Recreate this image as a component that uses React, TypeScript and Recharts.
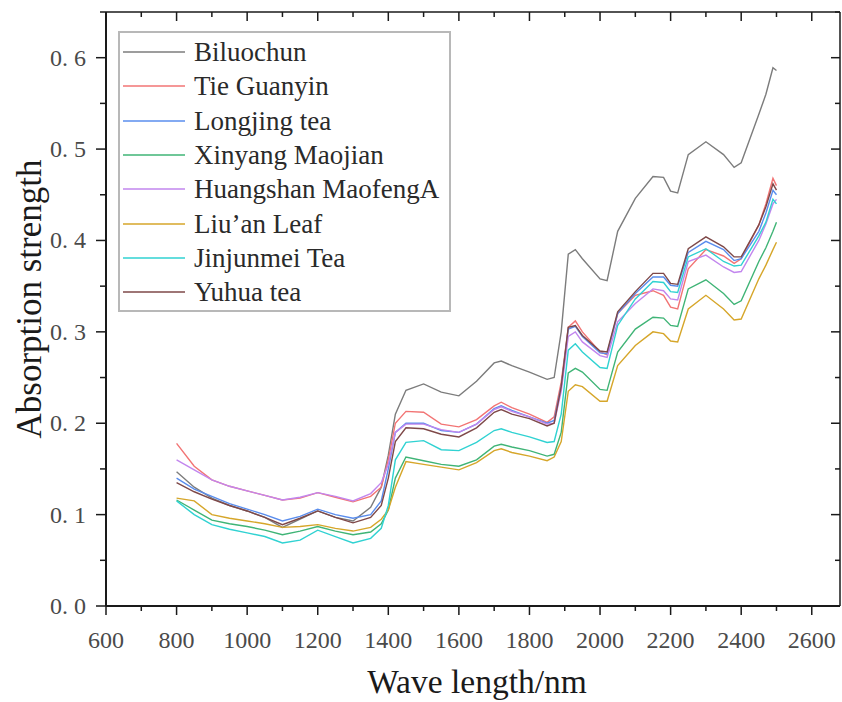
import React from 'react';
import { LineChart, Line, XAxis, YAxis, Legend, Label, ReferenceLine } from 'recharts';

const wavelengths = [
  800, 850, 900, 950, 1000, 1050, 1100, 1150, 1200, 1250, 1300, 1350, 1380, 1400, 1420, 1450,
  1500, 1550, 1600, 1650, 1700, 1720, 1750, 1800, 1850, 1870, 1890, 1910, 1930, 1950, 2000,
  2020, 2050, 2100, 2150, 2180, 2200, 2220, 2250, 2300, 2350, 2380, 2400, 2450, 2470, 2490, 2500,
];

const biluochun = [
  0.147, 0.13, 0.118, 0.11, 0.104, 0.097, 0.086, 0.095, 0.104, 0.097, 0.093, 0.108, 0.13, 0.165, 0.21, 0.236,
  0.243, 0.234, 0.23, 0.246, 0.266, 0.268, 0.263, 0.256, 0.248, 0.25, 0.3, 0.385, 0.39, 0.38, 0.358,
  0.356, 0.41, 0.446, 0.47, 0.469, 0.454, 0.452, 0.494, 0.508, 0.494, 0.48, 0.485, 0.538, 0.56, 0.589, 0.586,
];
const tieGuanyin = [
  0.178, 0.153, 0.138, 0.131, 0.126, 0.121, 0.116, 0.118, 0.124, 0.119, 0.114, 0.12, 0.13, 0.16, 0.2, 0.213,
  0.212, 0.199, 0.196, 0.204, 0.219, 0.223, 0.217, 0.21, 0.201, 0.207, 0.245, 0.305, 0.312, 0.3, 0.278,
  0.275, 0.32, 0.34, 0.345, 0.34, 0.327, 0.325, 0.369, 0.39, 0.383, 0.375, 0.38, 0.417, 0.44, 0.468, 0.46,
];
const longjing = [
  0.14, 0.128, 0.12, 0.112, 0.106, 0.1, 0.093, 0.098, 0.106, 0.1, 0.096, 0.1, 0.115, 0.15, 0.19, 0.2,
  0.2, 0.192, 0.19, 0.199, 0.216, 0.219, 0.214, 0.207, 0.2, 0.203, 0.24, 0.303, 0.306, 0.295, 0.277,
  0.276, 0.32, 0.342, 0.36, 0.36, 0.351, 0.35, 0.387, 0.399, 0.39, 0.378, 0.38, 0.41, 0.43, 0.455, 0.45,
];
const xinyang = [
  0.116, 0.105, 0.094, 0.09, 0.087, 0.083, 0.078, 0.082, 0.087, 0.082, 0.078, 0.081, 0.09, 0.105, 0.14, 0.163,
  0.159, 0.155, 0.153, 0.16, 0.175, 0.177, 0.174, 0.17, 0.164, 0.166, 0.19, 0.255, 0.26, 0.256, 0.237,
  0.236, 0.278, 0.303, 0.316, 0.315, 0.307, 0.306, 0.347, 0.357, 0.342, 0.33, 0.334, 0.377, 0.392, 0.41, 0.42,
];
const huangshan = [
  0.16, 0.149, 0.138, 0.131, 0.126, 0.121, 0.116, 0.119, 0.124, 0.12, 0.115, 0.123, 0.135, 0.155, 0.19, 0.199,
  0.199, 0.193, 0.19, 0.199, 0.215, 0.218, 0.213, 0.207, 0.199, 0.2, 0.235, 0.295, 0.3, 0.289, 0.274,
  0.272, 0.311, 0.331, 0.347, 0.345, 0.336, 0.335, 0.377, 0.384, 0.371, 0.365, 0.366, 0.4, 0.418, 0.44, 0.445,
];
const liuan = [
  0.118, 0.115, 0.1, 0.096, 0.093, 0.09, 0.086, 0.087, 0.089, 0.085, 0.082, 0.086, 0.095, 0.105, 0.13, 0.158,
  0.155, 0.152, 0.149, 0.157, 0.17, 0.172, 0.168, 0.164, 0.159, 0.163, 0.18, 0.235, 0.242, 0.24, 0.224,
  0.224, 0.263, 0.285, 0.3, 0.298, 0.29, 0.289, 0.325, 0.34, 0.325, 0.313, 0.314, 0.358, 0.373, 0.39, 0.398,
];
const jinjunmei = [
  0.115, 0.1, 0.089, 0.084, 0.08, 0.076, 0.069, 0.072, 0.083, 0.076, 0.069, 0.074, 0.085, 0.11, 0.16, 0.179,
  0.181, 0.171, 0.17, 0.179, 0.192, 0.194, 0.19, 0.185, 0.179, 0.18, 0.21, 0.28, 0.287, 0.278, 0.261,
  0.26, 0.307, 0.336, 0.355, 0.354, 0.344, 0.343, 0.382, 0.391, 0.377, 0.372, 0.373, 0.405, 0.42, 0.445, 0.44,
];
const yuhua = [
  0.135, 0.125, 0.117, 0.11, 0.104, 0.097, 0.089, 0.096, 0.104, 0.097, 0.091, 0.097, 0.11, 0.14, 0.18, 0.195,
  0.194, 0.188, 0.185, 0.195, 0.212, 0.215, 0.21, 0.205, 0.197, 0.2, 0.24, 0.305, 0.307, 0.296, 0.279,
  0.278, 0.322, 0.344, 0.364, 0.364, 0.353, 0.352, 0.391, 0.404, 0.393, 0.382, 0.382, 0.417, 0.437, 0.462, 0.455,
];

const xTicks = [600, 700, 800, 900, 1000, 1100, 1200, 1300, 1400, 1500, 1600, 1700, 1800, 1900, 2000, 2100, 2200, 2300, 2400, 2500, 2600];
const yTicks = [0, 0.05, 0.1, 0.15, 0.2, 0.25, 0.3, 0.35, 0.4, 0.45, 0.5, 0.55, 0.6, 0.65];
const xDomain = [600, 2680];
const yDomain = [0, 0.65];

const seriesList = [
  { key: 'biluochun', name: 'Biluochun', color: '#7c7c7c', values: biluochun },
  { key: 'tieGuanyin', name: 'Tie Guanyin', color: '#f27474', values: tieGuanyin },
  { key: 'longjing', name: 'Longjing tea', color: '#5a8ded', values: longjing },
  { key: 'xinyang', name: 'Xinyang Maojian', color: '#3fb476', values: xinyang },
  { key: 'huangshan', name: 'Huangshan MaofengA', color: '#c286ee', values: huangshan },
  { key: 'liuan', name: 'Liu\u2019an Leaf', color: '#d6a62a', values: liuan },
  { key: 'jinjunmei', name: 'Jinjunmei Tea', color: '#30d2d2', values: jinjunmei },
  { key: 'yuhua', name: 'Yuhua tea', color: '#7e4848', values: yuhua },
];

const chartData = wavelengths.map((w, i) => {
  const row: Record<string, number> = { w };
  seriesList.forEach((s) => {
    row[s.key] = s.values[i];
  });
  return row;
});

const CHART_W = 842;
const CHART_H = 702;
const MARGIN = { top: 12, right: 2, left: 0, bottom: 0 };
// edges of the plot frame, used to mirror the ticks onto the top and right sides
const FRAME_TOP = MARGIN.top;
const FRAME_RIGHT = CHART_W - MARGIN.right;

const FONT = '"Liberation Serif", "Times New Roman", serif';
const AXIS = '#1a1a1a';

const isMajorX = (v: number) => v % 200 === 0;
const isMajorY = (v: number) => Math.round(v * 100) % 10 === 0;

const BottomTick = (props: any) => {
  const { x, y, payload } = props;
  const major = isMajorX(payload.value);
  const len = major ? 9 : 5;
  return (
    <g>
      <line x1={x} y1={y} x2={x} y2={y + len} stroke={AXIS} strokeWidth={1.5} />
      <line x1={x} y1={FRAME_TOP} x2={x} y2={FRAME_TOP + len} stroke={AXIS} strokeWidth={1.5} />
      {major && (
        <text x={x} y={y + 42} textAnchor="middle" fontSize={24} fontFamily={FONT} fill="#4a4a4a">
          {payload.value}
        </text>
      )}
    </g>
  );
};

const LeftTick = (props: any) => {
  const { x, y, payload } = props;
  const major = isMajorY(payload.value);
  return (
    <g>
      <line x1={x - (major ? 10 : 6)} y1={y} x2={x} y2={y} stroke={AXIS} strokeWidth={1.5} />
      <line x1={FRAME_RIGHT - (major ? 9 : 5)} y1={y} x2={FRAME_RIGHT} y2={y} stroke={AXIS} strokeWidth={1.5} />
      {major && (
        <text x={x - 20} y={y + 8} textAnchor="end" fontSize={24} fontFamily={FONT} fill="#4a4a4a">
          {payload.value.toFixed(1).replace('.', '. ')}
        </text>
      )}
    </g>
  );
};

const seriesOrder = seriesList.map((s) => s.name);

const LegendBox = (props: any) => {
  const items = [...(props.payload || [])]
    .filter((e: any) => seriesOrder.includes(e.value))
    .sort((a: any, b: any) => seriesOrder.indexOf(a.value) - seriesOrder.indexOf(b.value));
  return (
    <div
      style={{
        width: 333,
        height: 281,
        boxSizing: 'border-box',
        border: '2px solid #b8b8b8',
        background: '#fff',
        paddingTop: 2,
      }}
    >
      {items.map((entry: any) => (
        <div key={entry.value} style={{ display: 'flex', alignItems: 'center', height: 34.3 }}>
          <div style={{ width: 62, height: 2, background: entry.color, opacity: 0.75, marginLeft: 3, marginRight: 9 }} />
          <span style={{ fontFamily: FONT, fontSize: 27, color: '#2a2a2a', lineHeight: '34px', whiteSpace: 'nowrap' }}>
            {entry.value}
          </span>
        </div>
      ))}
    </div>
  );
};

export default function App() {
  return (
    <div style={{ position: 'absolute', left: 0, top: 0, background: '#fff' }}>
      <LineChart width={CHART_W} height={CHART_H} data={chartData} margin={MARGIN}>
        <XAxis
          dataKey="w"
          type="number"
          domain={xDomain}
          ticks={xTicks}
          interval={0}
          height={96}
          tickSize={0}
          tickMargin={0}
          tickLine={false}
          tick={BottomTick}
          axisLine={{ stroke: AXIS, strokeWidth: 2 }}
        >
          <Label
            content={(p: any) => {
              const vb = p.viewBox;
              return (
                <text x={vb.x + vb.width / 2 + 4} y={693} textAnchor="middle" fontSize={33.5} fontFamily={FONT} fill="#1a1a1a">
                  Wave length/nm
                </text>
              );
            }}
          />
        </XAxis>
        <YAxis
          type="number"
          domain={yDomain}
          ticks={yTicks}
          interval={0}
          width={106}
          tickSize={0}
          tickMargin={0}
          tickLine={false}
          tick={LeftTick}
          axisLine={{ stroke: AXIS, strokeWidth: 2 }}
        >
          <Label
            content={(p: any) => {
              const vb = p.viewBox;
              const cx = 41;
              const cy = vb.y + vb.height / 2 - 10;
              return (
                <text
                  x={cx}
                  y={cy}
                  transform={`rotate(-90 ${cx} ${cy})`}
                  textAnchor="middle"
                  fontSize={35}
                  fontFamily={FONT}
                  fill="#1a1a1a"
                >
                  Absorption strength
                </text>
              );
            }}
          />
        </YAxis>
        <ReferenceLine y={yDomain[1]} stroke={AXIS} strokeWidth={1.5} />
        <ReferenceLine x={xDomain[1]} stroke={AXIS} strokeWidth={1.5} />
        <Legend
          layout="vertical"
          align="center"
          verticalAlign="middle"
          content={LegendBox}
          wrapperStyle={{ left: 118, top: 31, width: 333, height: 281 }}
        />
        {seriesList.map((s) => (
          <Line
            key={s.key}
            dataKey={s.key}
            name={s.name}
            stroke={s.color}
            strokeWidth={1.4}
            dot={false}
            activeDot={false}
            isAnimationActive={false}
          />
        ))}
      </LineChart>
    </div>
  );
}
